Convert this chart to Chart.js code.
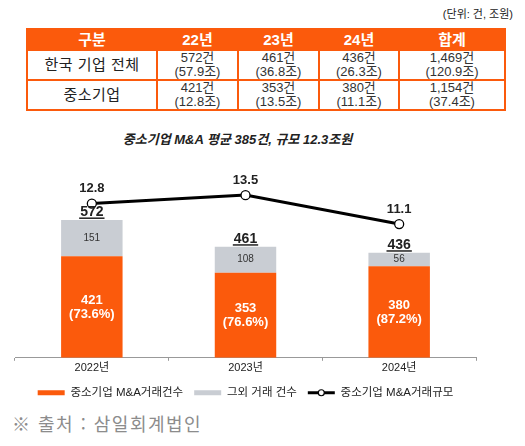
<!DOCTYPE html>
<html lang="ko">
<head>
<meta charset="utf-8">
<script src="https://cdn.jsdelivr.net/npm/chart.js@4.4.1/dist/chart.umd.min.js"></script>
<style>
  body { margin: 0; background: #fff; font-family: 'Liberation Sans', 'Noto Sans CJK KR', sans-serif; }
  #page { position: relative; width: 525px; height: 446px; overflow: hidden; }
  #unit { position: absolute; right: 12px; top: 7px; font-size: 11px; line-height: 14px; color: #222; }
  table { position: absolute; left: 26px; top: 28px; width: 478px; border-collapse: collapse; table-layout: fixed; }
  th, td { border: 2px solid #fb5a0c; text-align: center; padding: 0; }
  th { background: #fb5a0c; color: #fff; font-size: 15px; font-weight: bold; height: 19px; line-height: 19px; }
  td { height: 28px; font-size: 13px; line-height: 14px; color: #333; }
  td.name { font-size: 15px; color: #222; letter-spacing: 0.5px; }
  #title { position: absolute; top: 132px; left: 0; width: 475px; text-align: center; font-size: 13px; line-height: 16px; font-weight: bold; font-style: italic; color: #222; }
  #chartBox { position: absolute; left: 0; top: 120px; width: 525px; height: 289px; }
  #source { position: absolute; left: 12px; top: 413px; font-family: 'Noto Sans CJK KR', sans-serif; font-size: 18px; line-height: 20px; letter-spacing: 1.5px; color: #8c8c8c; }
</style>
</head>
<body>
<div id="page">
  <div id="unit">(단위: 건, 조원)</div>
  <table id="summary"></table>
  <div id="title">중소기업 M&amp;A 평균 385건, 규모 12.3조원</div>
  <div id="chartBox"><canvas id="mna-chart"></canvas></div>
  <div id="source">※ 출처 : 삼일회계법인</div>
</div>
<script>
// table values
var tableHead = ['구분', '22년', '23년', '24년', '합계'];
var rowNames = ['한국 기업 전체', '중소기업'];
var allCount = ['572건', '461건', '436건', '1,469건'];
var allAmount = ['(57.9조)', '(36.8조)', '(26.3조)', '(120.9조)'];
var smeCount = ['421건', '353건', '380건', '1,154건'];
var smeAmount = ['(12.8조)', '(13.5조)', '(11.1조)', '(37.4조)'];

// chart values
var years = ['2022년', '2023년', '2024년'];
var smeDeals = [421, 353, 380];
var otherDeals = [151, 108, 56];
var totalDeals = [572, 461, 436];
var smeShare = ['73.6%', '76.6%', '87.2%'];
var smeScale = [12.8, 13.5, 11.1];

var FONT = "'Liberation Sans', 'Noto Sans CJK KR', sans-serif";
var ORANGE = '#fb5a0c';
var GREY = '#c9cdd3';
var LEGEND_SIZE = 11.5;

// build the summary table
var colWidths = [130, 81, 81, 80, 106];
var html = '<colgroup>' + colWidths.map(function (w) { return '<col style="width:' + w + 'px">'; }).join('') + '</colgroup>';
html += '<tr>' + tableHead.map(function (h) { return '<th>' + h + '</th>'; }).join('') + '</tr>';
[[allCount, allAmount], [smeCount, smeAmount]].forEach(function (row, r) {
    html += '<tr><td class="name">' + rowNames[r] + '</td>';
    row[0].forEach(function (c, i) {
        html += '<td>' + c + '<br>' + row[1][i] + '</td>';
    });
    html += '</tr>';
});
document.getElementById('summary').innerHTML = html;

// labels drawn on the bars and line points
var valueLabels = {
    id: 'valueLabels',
    afterDatasetsDraw: function (chart) {
        var ctx = chart.ctx;
        var sme = chart.getDatasetMeta(0).data;
        var other = chart.getDatasetMeta(1).data;
        var line = chart.getDatasetMeta(2).data;
        ctx.save();
        ctx.textAlign = 'center';
        ctx.textBaseline = 'middle';
        sme.forEach(function (bar, i) {
            var mid = (bar.y + bar.base) / 2;
            ctx.fillStyle = '#fff';
            ctx.font = 'bold 13px ' + FONT;
            ctx.fillText(String(smeDeals[i]), bar.x, mid - 6.5);
            ctx.fillText('(' + smeShare[i] + ')', bar.x, mid + 7);
        });
        other.forEach(function (bar, i) {
            var mid = (bar.y + bar.base) / 2;
            ctx.fillStyle = '#333';
            ctx.font = '10px ' + FONT;
            ctx.fillText(String(otherDeals[i]), bar.x, mid);
            // total above the stack, underlined
            ctx.fillStyle = '#222';
            ctx.font = 'bold 14px ' + FONT;
            var t = String(totalDeals[i]);
            ctx.fillText(t, bar.x, bar.y - 8);
            var w = ctx.measureText(t).width;
            ctx.fillRect(bar.x - w / 2 - 1, bar.y - 2.5, w + 2, 1.5);
        });
        line.forEach(function (pt, i) {
            ctx.fillStyle = '#222';
            ctx.font = 'bold 13px ' + FONT;
            ctx.fillText(smeScale[i].toFixed(1), pt.x, pt.y - 15);
        });
        ctx.restore();
    }
};

// line sample with a circle in the legend
var legendLine = {
    id: 'legendLine',
    afterDraw: function (chart) {
        var legend = chart.legend;
        if (!legend || !legend.legendHitBoxes[2]) return;
        var hb = legend.legendHitBoxes[2];
        var ctx = chart.ctx;
        var cy = hb.top + LEGEND_SIZE / 2;
        ctx.save();
        ctx.strokeStyle = '#000';
        ctx.lineWidth = 3;
        ctx.beginPath();
        ctx.moveTo(hb.left, cy);
        ctx.lineTo(hb.left + 27, cy);
        ctx.stroke();
        ctx.beginPath();
        ctx.arc(hb.left + 13.5, cy, 3, 0, Math.PI * 2);
        ctx.fillStyle = '#fff';
        ctx.fill();
        ctx.lineWidth = 1.2;
        ctx.stroke();
        ctx.restore();
    }
};

var ctx = document.getElementById('mna-chart').getContext('2d');
var mnaChart = new Chart(ctx, {
    type: 'bar',
    data: {
        labels: years,
        datasets: [{
            label: '중소기업 M&A거래건수',
            data: smeDeals,
            backgroundColor: ORANGE,
            borderWidth: 0,
            stack: 'deals',
            barPercentage: 1,
            categoryPercentage: 0.4
        }, {
            label: '그외 거래 건수',
            data: otherDeals,
            backgroundColor: GREY,
            borderWidth: 0,
            stack: 'deals',
            barPercentage: 1,
            categoryPercentage: 0.4
        }, {
            type: 'line',
            label: '중소기업 M&A거래규모',
            data: smeScale,
            yAxisID: 'y1',
            borderColor: '#000',
            backgroundColor: '#000',
            borderWidth: 3,
            pointRadius: 4.5,
            pointBackgroundColor: '#fff',
            pointBorderColor: '#000',
            pointBorderWidth: 1.3,
            tension: 0
        }]
    },
    options: {
        responsive: true,
        maintainAspectRatio: false,
        animation: false,
        layout: { padding: { left: 15, right: 49, top: 45, bottom: 0.5 } },
        scales: {
            x: {
                stacked: true,
                grid: { display: true, drawOnChartArea: false, drawTicks: true, tickLength: 3, color: '#999', offset: true },
                border: { display: true, color: '#999', width: 1 },
                ticks: { color: '#222', font: { size: 11, family: FONT }, padding: 1 }
            },
            y: { stacked: true, display: false, min: 0, max: 800 },
            y1: { display: false, min: 0, max: 16 }
        },
        plugins: {
            tooltip: { enabled: false },
            legend: {
                position: 'bottom',
                labels: {
                    boxWidth: 27,
                    boxHeight: 5,
                    padding: 11,
                    color: '#222',
                    font: { size: LEGEND_SIZE, family: FONT },
                    generateLabels: function (chart) {
                        var items = Chart.defaults.plugins.legend.labels.generateLabels(chart);
                        items.forEach(function (it, i) {
                            it.lineWidth = 0;
                            if (i === 2) {
                                it.fillStyle = 'rgba(0,0,0,0)';
                                it.strokeStyle = 'rgba(0,0,0,0)';
                            }
                        });
                        return items;
                    }
                }
            }
        }
    },
    plugins: [valueLabels, legendLine]
});
</script>
</body>
</html>
